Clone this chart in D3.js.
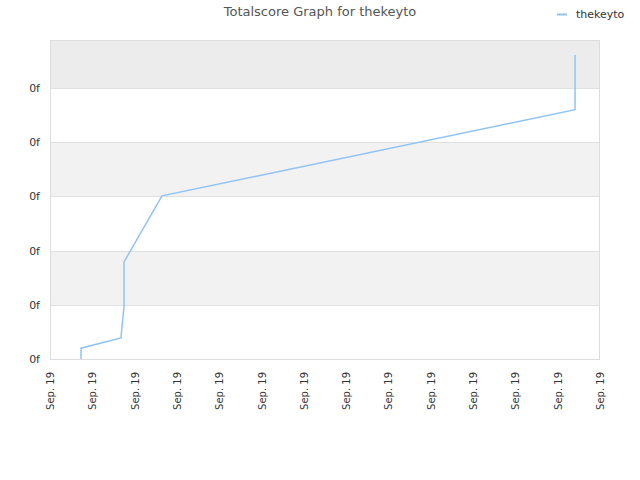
<!DOCTYPE html>
<html><head><meta charset="utf-8">
<script src="https://cdn.jsdelivr.net/npm/d3@7"></script>
<style>body{margin:0;background:#fff}svg{display:block;font-family:"DejaVu Sans",sans-serif}</style>
</head><body><svg id="c" width="640" height="480"></svg>
<script>
const title = "Totalscore Graph for thekeyto";
const seriesName = "thekeyto";
const xValues = [0.733, 0.733, 1.678, 1.70, 1.725, 1.749, 1.749, 2.647, 12.41, 12.41];
const yValues = [0.0, 0.2, 0.39, 0.59, 0.78, 0.97, 1.79, 3.01, 4.60, 5.61];
const xTickValues = [0,1,2,3,4,5,6,7,8,9,10,11,12,13];
const xTickLabels = ["Sep. 19","Sep. 19","Sep. 19","Sep. 19","Sep. 19","Sep. 19","Sep. 19","Sep. 19","Sep. 19","Sep. 19","Sep. 19","Sep. 19","Sep. 19","Sep. 19"];
const yTickValues = [0,1,2,3,4,5];
const yTickLabels = ["0f","0f","0f","0f","0f","0f"];

const svg = d3.select("#c");
const L=50,R=600,T=40,B=359;
const x = d3.scaleLinear().domain([0,13]).range([L,R]);
const y = d3.scaleLinear().domain([0,5.886]).range([B,T]);

// bands
const bandEdges = yTickValues.concat([5.886]);
for(let i=0;i<bandEdges.length-1;i++){
  let fill = (i%2===1) ? "#f2f2f2" : "#ffffff";
  if(i===bandEdges.length-2) fill="#ececec";
  svg.append("rect").attr("x",L).attr("y",y(bandEdges[i+1])).attr("width",R-L)
    .attr("height",y(bandEdges[i])-y(bandEdges[i+1])).attr("fill",fill);
}
// grid lines
svg.selectAll(".g").data(yTickValues.slice(1)).enter().append("line")
  .attr("x1",L).attr("x2",R).attr("y1",d=>Math.round(y(d))+0.5).attr("y2",d=>Math.round(y(d))+0.5)
  .attr("stroke","#e0e0e0");
// frame
svg.append("rect").attr("x",L+0.5).attr("y",T+0.5).attr("width",R-L-1).attr("height",B-T)
  .attr("fill","none").attr("stroke","#dddddd");

// y axis
const ya = d3.axisLeft(y).tickValues(yTickValues).tickSize(0).tickPadding(10)
  .tickFormat((d,i)=>yTickLabels[i]);
const yg = svg.append("g").attr("transform",`translate(${L},0)`).call(ya);
yg.select(".domain").remove();
yg.selectAll("text").attr("font-size",11).attr("fill","#333").attr("font-family","DejaVu Sans, sans-serif");

// x axis
const xa = d3.axisBottom(x).tickValues(xTickValues).tickSize(0).tickFormat((d,i)=>xTickLabels[i]);
const xg = svg.append("g").attr("transform",`translate(0,${B})`).call(xa);
xg.select(".domain").remove();
xg.selectAll("text").attr("font-size",10).attr("fill","#333").attr("font-family","DejaVu Sans, sans-serif")
  .attr("text-anchor","end").attr("dy","0.35em").attr("transform","translate(0,13) rotate(-90)").attr("x",0).attr("y",0);

// line
const pts = xValues.map((v,i)=>[v,yValues[i]]);
svg.append("path").datum(pts).attr("fill","none").attr("stroke","#90c3f5").attr("stroke-width",1.5)
  .attr("d",d3.line().x(d=>x(d[0])).y(d=>y(d[1])));

// title
svg.append("text").attr("x",320).attr("y",16).attr("text-anchor","middle").attr("font-size",13)
  .attr("fill","#555").text(title);
// legend
svg.append("line").attr("x1",557).attr("x2",567).attr("y1",14.5).attr("y2",14.5).attr("stroke","#90c3f5").attr("stroke-width",2);
svg.append("text").attr("x",576).attr("y",18).attr("font-size",11).attr("fill","#333").text(seriesName);
</script></body></html>
